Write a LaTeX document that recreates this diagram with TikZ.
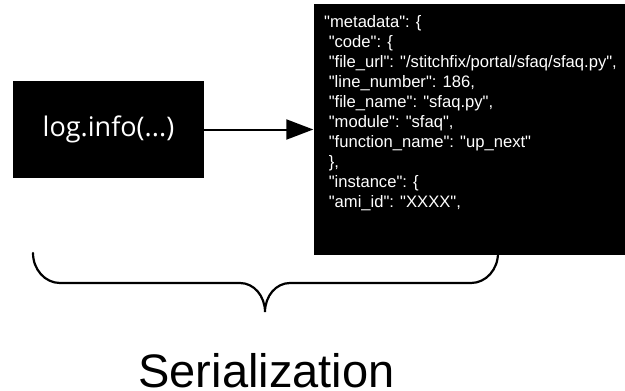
\documentclass[tikz,border=0pt]{standalone}
\usepackage{fontspec}
\setmainfont{Liberation Sans}[Ligatures=TeXOff]
\newfontfamily\logfont{Open Sans}
\usetikzlibrary{arrows.meta}
\begin{document}
\begin{tikzpicture}[x=1pt,y=-1pt,
  blackbox/.style={fill=black,draw=none,inner sep=0pt,text=white},
  jsonline/.style={anchor=base west,inner sep=0pt,text=white,
    font=\fontsize{16.6}{20}\selectfont},
  link/.style={line width=2pt,-{Triangle[length=27pt,width=20pt]}},
  bracket/.style={line width=2.2pt,line cap=round}]
\useasboundingbox (0,0) rectangle (625,391);

% the call being serialized
\node[blackbox,minimum width=191pt,minimum height=97pt,
      font=\logfont\fontsize{27}{32}\selectfont] (log) at (108.5,129.5) {log.info(...)};

% the serialized record
\node[blackbox,minimum width=312pt,minimum height=251pt] (json) at (469.5,129.5) {};
\node[jsonline] (j1) at (324,27) {"metadata": \{};
\node[jsonline] (j2) at (328.6,47) {"code": \{};
\node[jsonline] (j3) at (328.6,67) {"file\_url": "/stitchfix/portal/sfaq/sfaq.py",};
\node[jsonline] (j4) at (328.6,87) {"line\_number": 186,};
\node[jsonline] (j5) at (328.6,107) {"file\_name": "sfaq.py",};
\node[jsonline] (j6) at (328.6,127) {"module": "sfaq",};
\node[jsonline] (j7) at (328.6,147) {"function\_name": "up\_next"};
\node[jsonline] (j8) at (328.6,167) {\},};
\node[jsonline] (j9) at (328.6,187) {"instance": \{};
\node[jsonline] (j10) at (328.6,207) {"ami\_id": "XXXX",};

\draw[link] (log.east) -- (json.west);

% curly bracket under both boxes
\draw[bracket] (33,253) .. controls (33,269.5) and (45,283) .. (60,283)
  -- (240,283) .. controls (254,283) and (265,296) .. (265,312)
  .. controls (265,296) and (276,283) .. (290,283)
  -- (471,283) .. controls (486,283) and (498,269.5) .. (498,253);

\node[anchor=base,inner sep=0pt,font=\fontsize{47}{56}\selectfont] (label) at (266.5,387) {Serialization};
\end{tikzpicture}
\end{document}
